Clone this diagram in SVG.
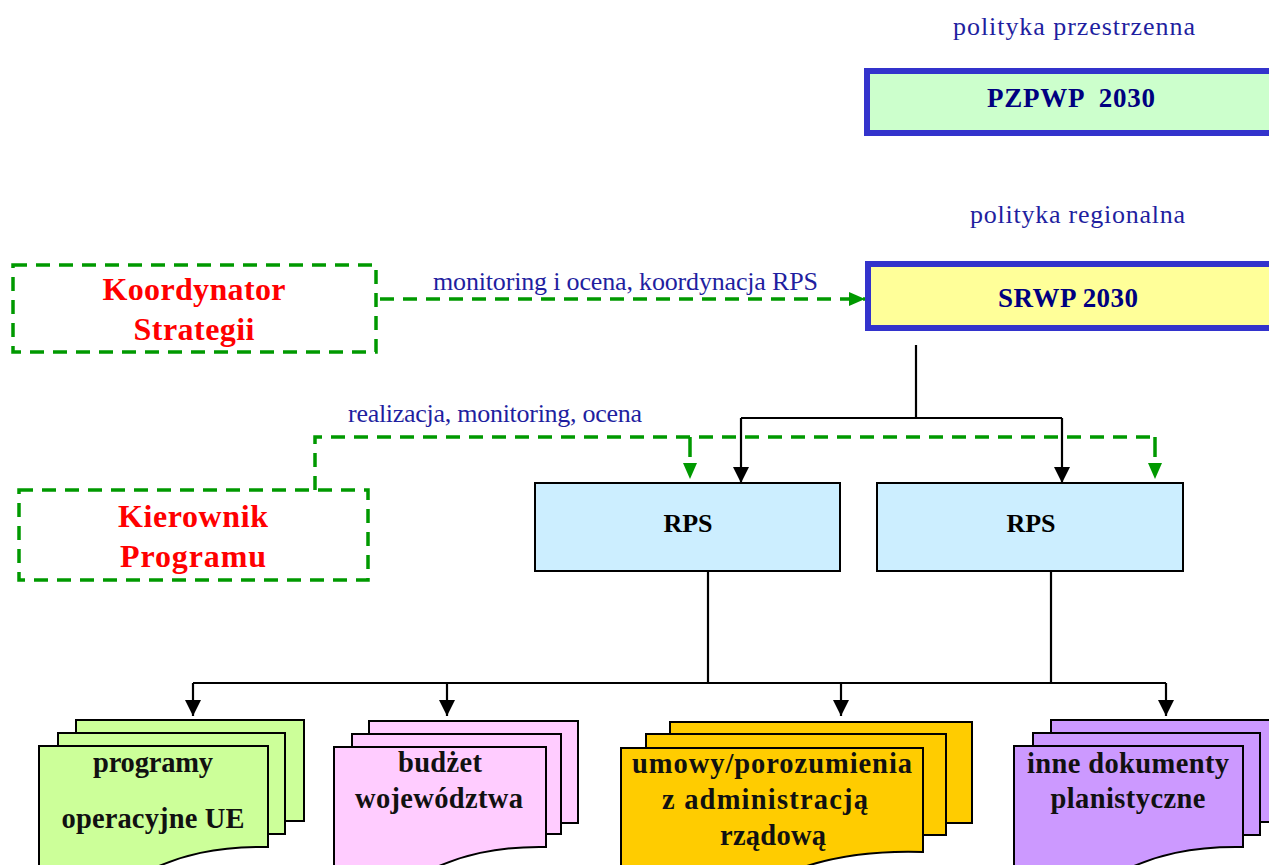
<svg xmlns="http://www.w3.org/2000/svg" width="1269" height="865" viewBox="0 0 1269 865">
<style>
  text { font-family: "Liberation Serif", "Times New Roman", serif; }
  .lbl { font-size: 26px; fill: #1f1fa0; }
  .red { font-size: 32px; font-weight: bold; fill: #ff0000; text-anchor: middle; }
  .main { font-size: 27px; font-weight: bold; fill: #000080; text-anchor: middle; }
  .rps { font-size: 26px; font-weight: bold; fill: #000; text-anchor: middle; }
  .doc { font-size: 28.5px; font-weight: bold; fill: #111; text-anchor: middle; }
  .mainbox { stroke: #3333cc; stroke-width: 6; }
  .dashbox { fill: none; stroke: #009900; stroke-width: 3.5; stroke-dasharray: 14 9; }
  .gline { fill: none; stroke: #009900; stroke-width: 3.5; stroke-dasharray: 14 9; }
  .gdrop { fill: none; stroke: #009900; stroke-width: 3.5; stroke-dasharray: 20 40; }
  .bline { fill: none; stroke: #000; stroke-width: 2.2; }
  .sheet { stroke: #000; stroke-width: 2; }
</style>
<defs>
  <marker id="ab" markerUnits="userSpaceOnUse" markerWidth="16" markerHeight="16" viewBox="0 0 16 16" refX="16" refY="8" orient="auto">
    <path d="M0,0 L16,8 L0,16 z" fill="#000"/>
  </marker>
  <marker id="ag" markerUnits="userSpaceOnUse" markerWidth="16" markerHeight="14" viewBox="0 0 16 14" refX="16" refY="7" orient="auto">
    <path d="M0,0 L16,7 L0,14 z" fill="#009900"/>
  </marker>
</defs>

<text class="lbl" x="953" y="35" textLength="242">polityka przestrzenna</text>
<text class="lbl" x="970" y="223" textLength="215">polityka regionalna</text>
<text class="lbl" x="433" y="290" textLength="385">monitoring i ocena, koordynacja RPS</text>
<text class="lbl" x="348" y="422" textLength="294">realizacja, monitoring, ocena</text>

<g id="connectors">
  <path class="gline" d="M380,299 H865" marker-end="url(#ag)"/>
  <path class="gline" d="M315,490 V437 H1155"/>
  <path class="gdrop" d="M690,437 V479" marker-end="url(#ag)"/>
  <path class="gdrop" d="M1155,437 V479" marker-end="url(#ag)"/>
  <path class="bline" d="M916,345 V418"/>
  <path class="bline" d="M741,418 H1062"/>
  <path class="bline" d="M741,418 V483" marker-end="url(#ab)"/>
  <path class="bline" d="M1062,418 V483" marker-end="url(#ab)"/>
  <path class="bline" d="M708,571 V683"/>
  <path class="bline" d="M1051,571 V683"/>
  <path class="bline" d="M193,683 H1166"/>
  <path class="bline" d="M193,683 V716" marker-end="url(#ab)"/>
  <path class="bline" d="M447,683 V716" marker-end="url(#ab)"/>
  <path class="bline" d="M841,683 V716" marker-end="url(#ab)"/>
  <path class="bline" d="M1166,683 V716" marker-end="url(#ab)"/>
</g>

<g id="pzpwp">
  <rect class="mainbox" x="867" y="71" width="410" height="62" fill="#ccffcc"/>
  <text class="main" x="1071" y="107" textLength="168" xml:space="preserve">PZPWP  2030</text>
</g>

<g id="srwp">
  <rect class="mainbox" x="868" y="264" width="410" height="64" fill="#ffff99"/>
  <text class="main" x="1068" y="307" textLength="140">SRWP 2030</text>
</g>

<g id="koordynator">
  <rect class="dashbox" x="13" y="265" width="363" height="87"/>
  <text class="red" x="194" y="300" textLength="183">Koordynator</text>
  <text class="red" x="194" y="340" textLength="121">Strategii</text>
</g>

<g id="kierownik">
  <rect class="dashbox" x="19" y="490" width="349" height="90"/>
  <text class="red" x="193" y="527" textLength="150">Kierownik</text>
  <text class="red" x="193" y="567" textLength="146">Programu</text>
</g>

<g id="rps1">
  <rect x="535" y="483" width="305" height="88" fill="#cceeff" stroke="#000" stroke-width="2"/>
  <text class="rps" x="688" y="532">RPS</text>
</g>
<g id="rps2">
  <rect x="877" y="483" width="306" height="88" fill="#cceeff" stroke="#000" stroke-width="2"/>
  <text class="rps" x="1031" y="532">RPS</text>
</g>

<g id="doc-programy">
  <path class="sheet" fill="#ccff99" d="M76,720 H304 V821 H268 V830 H76 Z"/>
  <path class="sheet" fill="#ccff99" d="M58,733 H285 V834 H268 V840 H58 Z"/>
  <path class="sheet" fill="#ccff99" d="M39,746 H268 V847 C215,846 180,856 150,870 L39,890 Z"/>
  <text class="doc" x="153" y="772" textLength="120">programy</text>
  <text class="doc" x="153" y="828" textLength="183">operacyjne UE</text>
</g>

<g id="doc-budzet">
  <path class="sheet" fill="#ffccff" d="M369,721 H578 V823 H546 V830 H369 Z"/>
  <path class="sheet" fill="#ffccff" d="M352,734 H561 V834 H546 V840 H352 Z"/>
  <path class="sheet" fill="#ffccff" d="M334,747 H546 V847 C495,846 460,856 430,870 L334,890 Z"/>
  <text class="doc" x="440" y="772" textLength="84">budżet</text>
  <text class="doc" x="439" y="808" textLength="168">województwa</text>
</g>

<g id="doc-umowy">
  <path class="sheet" fill="#ffcc00" d="M670,722 H972 V823 H923 V830 H670 Z"/>
  <path class="sheet" fill="#ffcc00" d="M646,734 H946 V835 H923 V842 H646 Z"/>
  <path class="sheet" fill="#ffcc00" d="M621,748 H923 V852 C860,850 820,860 790,872 L621,890 Z"/>
  <text class="doc" x="772" y="773" textLength="280">umowy/porozumienia</text>
  <text class="doc" x="765" y="809" textLength="206">z administracją</text>
  <text class="doc" x="773" y="845" textLength="106">rządową</text>
</g>

<g id="doc-inne">
  <path class="sheet" fill="#cc99ff" d="M1051,720 H1290 V822 H1243 V830 H1051 Z"/>
  <path class="sheet" fill="#cc99ff" d="M1033,733 H1260 V835 H1243 V840 H1033 Z"/>
  <path class="sheet" fill="#cc99ff" d="M1014,746 H1243 V847 C1190,846 1155,856 1125,870 L1014,890 Z"/>
  <text class="doc" x="1128" y="773" textLength="202">inne dokumenty</text>
  <text class="doc" x="1128" y="808" textLength="155">planistyczne</text>
</g>
</svg>
